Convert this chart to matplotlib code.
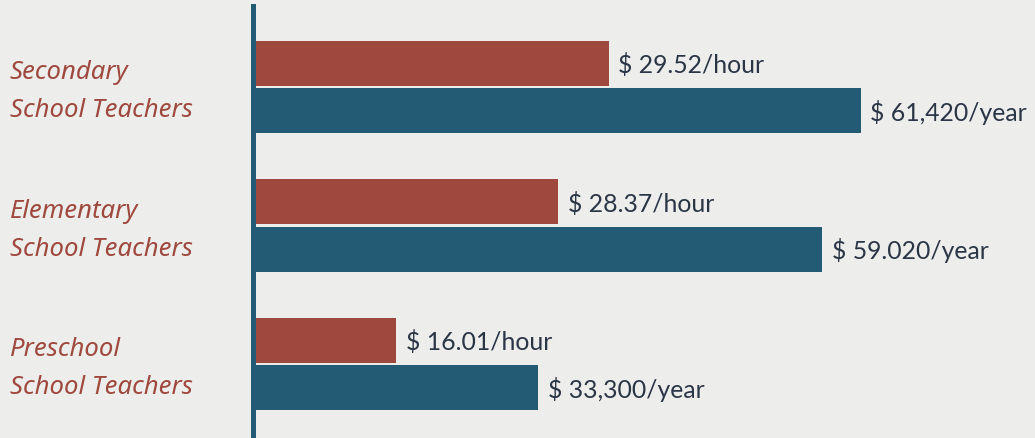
import numpy as np
import matplotlib.pyplot as plt
from matplotlib.transforms import blended_transform_factory

# categories, top to bottom
categories = ['Secondary\nSchool Teachers', 'Elementary\nSchool Teachers', 'Preschool\nSchool Teachers']
hourly_labels = ['$ 29.52/hour', '$ 28.37/hour', '$ 16.01/hour']
yearly_labels = ['$ 61,420/year', '$ 59.020/year', '$ 33,300/year']
# drawn bar lengths (infographic scale, not proportional to the wages)
hourly_bar = [356, 305, 143]
yearly_bar = [608, 569, 285]

bg = '#ededeb'
red = '#9f483e'
blue = '#235b75'
txt = '#2a3546'

plt.rcParams['font.family'] = ['Lato', 'DejaVu Sans']

fig = plt.figure(figsize=(10.35, 4.38), dpi=100, facecolor=bg)
ax = fig.add_axes([252.5 / 1035, 0, 1 - 252.5 / 1035, 1], facecolor=bg)

y = np.arange(len(categories))
h = 0.325
off = 0.17
ax.barh(y - off, hourly_bar, height=h, color=red)
ax.barh(y + off, yearly_bar, height=h, color=blue)

for i in range(len(categories)):
    ax.text(hourly_bar[i] + 10, y[i] - off + 0.012, hourly_labels[i], va='center', ha='left',
            fontsize=17.8, color=txt)
    ax.text(yearly_bar[i] + 10, y[i] + off + 0.012, yearly_labels[i], va='center', ha='left',
            fontsize=17.8, color=txt)

tr = blended_transform_factory(fig.transFigure, ax.transData)
for i, c in enumerate(categories):
    ax.text(10 / 1035, y[i] + 0.035, c, transform=tr, va='center', ha='left',
            fontsize=18.5, style='italic', color=red, linespacing=1.68,
            family=['Noto Sans', 'DejaVu Sans'])

ax.set_xlim(0, 1035 - 252.5)
ax.set_ylim(2.534, -0.628)
ax.axvline(0, ymin=0, ymax=1 - 6 / 438, color=blue, lw=3.6, zorder=5, clip_on=False)
for s in ax.spines.values():
    s.set_visible(False)
ax.set_xticks([])
ax.set_yticks([])

fig.savefig('out.png', dpi=100, facecolor=bg)
